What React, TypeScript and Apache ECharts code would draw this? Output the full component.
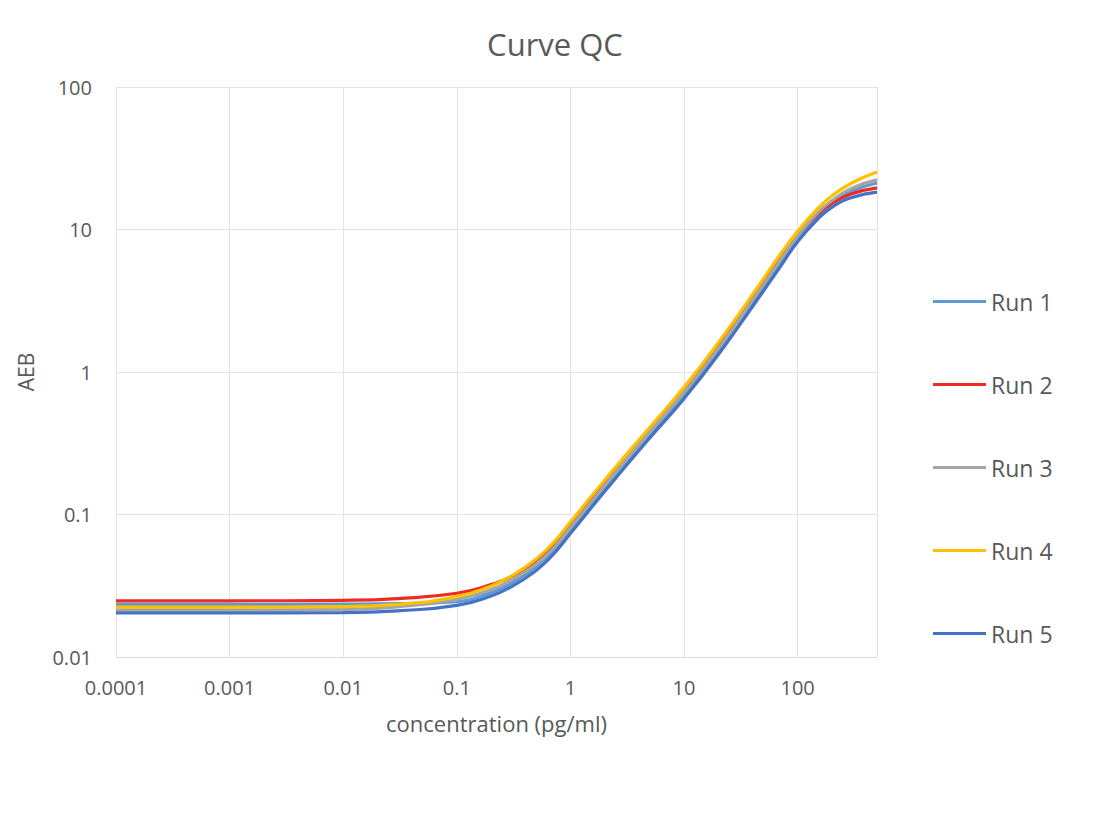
import React, { useEffect, useRef } from "react";
import * as echarts from "echarts";

const concentrations = [0.0001, 0.001, 0.01, 0.03, 0.1, 0.2, 0.3, 0.5, 0.7, 1, 2, 5, 10, 20, 50, 70, 100, 150, 200, 300, 500];

const run1 = [0.0234, 0.0234, 0.0235, 0.0237, 0.0245, 0.0283, 0.0328, 0.043, 0.055, 0.078, 0.154, 0.365, 0.69, 1.4, 3.95, 5.85, 8.7, 12.6, 15.3, 18.6, 21.2];
const run2 = [0.0248, 0.0248, 0.025, 0.0257, 0.028, 0.0322, 0.0365, 0.0475, 0.0605, 0.085, 0.168, 0.395, 0.75, 1.52, 4.25, 6.25, 9.1, 12.8, 15.2, 17.8, 19.6];
const run3 = [0.0214, 0.0214, 0.0216, 0.0225, 0.0254, 0.0297, 0.0345, 0.045, 0.0575, 0.081, 0.16, 0.38, 0.72, 1.46, 4.1, 6.05, 9.0, 13.1, 15.9, 19.5, 22.3];
const run4 = [0.0224, 0.0224, 0.0226, 0.0234, 0.0265, 0.0315, 0.0368, 0.0488, 0.0627, 0.0885, 0.174, 0.41, 0.78, 1.6, 4.5, 6.65, 9.7, 14.0, 17.2, 21.2, 25.3];
const run5 = [0.0204, 0.0204, 0.0205, 0.0211, 0.023, 0.0268, 0.031, 0.0405, 0.052, 0.0735, 0.145, 0.345, 0.65, 1.32, 3.7, 5.45, 8.2, 11.8, 14.3, 16.8, 18.3];

const seriesNames = ["Run 1", "Run 2", "Run 3", "Run 4", "Run 5"];
const seriesValues = [run1, run2, run3, run4, run5];
const seriesColors = ["#5B9BD5", "#EE2A24", "#A5A5A5", "#FFC000", "#4472C4"];

const FONT = "'Open Sans', 'Noto Sans', sans-serif";
const TEXT = "#595959";

function fmt(v: number): string {
  const lg = Math.log10(v);
  if (Math.abs(lg - Math.round(lg)) > 1e-6) return "";
  const p = Math.round(lg);
  return p < 0 ? (10 ** p).toFixed(-p) : String(10 ** p);
}

export default function App() {
  const ref = useRef<HTMLDivElement>(null);
  useEffect(() => {
    if (!ref.current) return;
    const chart = echarts.init(ref.current, undefined, { renderer: "svg" });
    chart.setOption({
      animation: false,
      backgroundColor: "#ffffff",
      textStyle: { fontFamily: FONT },
      title: {
        text: "Curve QC",
        left: "center",
        top: 23,
        textStyle: { fontFamily: FONT, fontSize: 31, fontWeight: "normal", color: TEXT },
      },
      legend: {
        orient: "vertical",
        left: 928,
        top: 285,
        icon: "rect",
        itemWidth: 53,
        itemHeight: 3,
        itemGap: 60,
        textStyle: { fontFamily: FONT, fontSize: 23, color: TEXT },
        data: seriesNames,
      },
      grid: { left: 116, right: 233, top: 87, bottom: 161, containLabel: false },
      xAxis: {
        type: "log",
        logBase: 10,
        min: 0.0001,
        max: 500,
        name: "concentration (pg/ml)",
        nameLocation: "middle",
        nameGap: 55,
        nameTextStyle: { fontFamily: FONT, fontSize: 22, color: TEXT },
        axisLine: { show: true, lineStyle: { color: "#D9D9D9", width: 1 } },
        axisTick: { show: false },
        axisLabel: { fontFamily: FONT, fontSize: 20, color: TEXT, margin: 20, formatter: fmt },
        splitLine: { show: true, lineStyle: { color: "#E3E3E3", width: 1 } },
        minorSplitLine: { show: false },
      },
      yAxis: {
        type: "log",
        logBase: 10,
        min: 0.01,
        max: 100,
        name: "AEB",
        nameLocation: "middle",
        nameGap: 80,
        nameTextStyle: { fontFamily: FONT, fontSize: 21, color: TEXT },
        axisLine: { show: false },
        axisTick: { show: false },
        axisLabel: { fontFamily: FONT, fontSize: 20, color: TEXT, margin: 24, formatter: fmt },
        splitLine: { show: true, lineStyle: { color: "#E3E3E3", width: 1 } },
      },
      series: seriesNames.map((name, i) => ({
        name,
        type: "line",
        smooth: 0.5,
        symbol: "none",
        showSymbol: false,
        color: seriesColors[i],
        itemStyle: { color: seriesColors[i] },
        lineStyle: { color: seriesColors[i], width: 3.2 },
        data: concentrations.map((x, j) => [x, seriesValues[i][j]]),
      })),
    });
    return () => chart.dispose();
  }, []);
  return (
    <div
      ref={ref}
      style={{ position: "fixed", left: 0, top: 0, width: 1110, height: 818 }}
    />
  );
}
